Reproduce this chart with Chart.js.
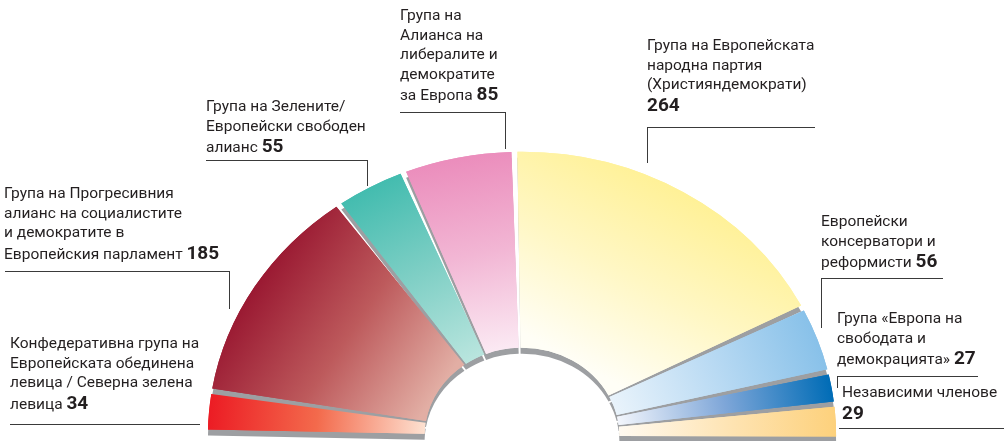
<!DOCTYPE html>
<html>
<head>
<meta charset="utf-8">
<script src="https://cdn.jsdelivr.net/npm/chart.js@4/dist/chart.umd.min.js"></script>
<style>
  html, body { margin: 0; padding: 0; background: #fff; }
  #wrap { position: relative; width: 1008px; height: 441px; overflow: hidden; }
  #wrap canvas { position: absolute; left: 0; top: 0; }
  .lbl {
    position: absolute; white-space: nowrap;
    font-family: Roboto, "Open Sans", sans-serif; font-size: 15.5px; line-height: 19.5px;
    color: #231f20;
  }
  .lbl b { font-size: 19px; line-height: 1; font-weight: 700; }
  .ln { position: absolute; box-sizing: border-box; border: 0 solid #3a3a3a; }
</style>
</head>
<body>
<div id="wrap">
  <canvas id="seats"></canvas>
</div>
<script>
// seats per political group, left to right around the hemicycle
const GROUPS = ['ЕОЛ/СЗЛ', 'С&Д', 'Зелените/ЕСА', 'Обнови Европа', 'ЕНП', 'ЕКР', 'ИД', 'Независими'];
const SEATS = [34, 185, 55, 85, 264, 56, 27, 29];

const LABEL_LINES = [
  ['Конфедеративна група на', 'Европейската обединена', 'левица / Северна зелена', 'левица '],
  ['Група на Прогресивния', 'алианс на социалистите', 'и демократите в', 'Европейския парламент '],
  ['Група на Зелените/', 'Европейски свободен', 'алианс '],
  ['Група на', 'Алианса на', 'либералите и', 'демократите', 'за Европа '],
  ['Група на Европейската', 'народна партия', '(Християндемократи)', ''],
  ['Европейски', 'консерватори и', 'реформисти '],
  ['Група «Европа на', 'свободата и', 'демокрацията» '],
  ['Независими членове', '']
];

// slice colours: outer edge -> inner edge
const OUTER_COLORS = ['#ec1c24', '#9a1932', '#43bcaf', '#eb8dbc', '#fff197', '#88c1e9', '#006cb6', '#fdd17c'];
const MID_COLORS   = ['#f36a4c', '#bd5a5c', '#7fcfc5', '#f2b6d4', '#fff7c4', '#b9daf3', '#7ea6d8', '#fee4b4'];
const INNER_COLORS = ['#fde1d1', '#e2aea4', '#b9e5de', '#fbe9f3', '#fffef6', '#e9f3fb', '#f3f6fc', '#fffaf1'];
const SHADOW = '#9d9fa2';

const ROTATION = -89.3;   // start slightly above the left horizontal
const RADIUS = 284;
const CUTOUT = '31%';
const STRETCH = 1.106;    // the hemicycle is a little wider than tall
const GAP_DEG = 1.1;
const DROP = 6;

// label boxes [left, top] and leader lines [left, top, width, height, sides]
const LABEL_POS = [[10, 334], [4, 184], [206, 97], [400, 6], [647, 36], [821, 212], [837, 309], [842, 383]];
const LEADERS = [
  [10, 424, 190, 1, 't'],
  [5, 271, 225, 38, 'tr'],
  [206, 160, 162, 26, 'tr'],
  [400, 112, 106, 37, 'tr'],
  [647, 127, 168, 36, 'tl'],
  [821, 278, 122, 50, 'tl'],
  [837, 376, 141, 12, 'tl'],
  [839, 428, 165, 1, 't']
];

const wrap = document.getElementById('wrap');
LABEL_LINES.forEach(function (lines, i) {
  const div = document.createElement('div');
  div.className = 'lbl';
  div.style.left = LABEL_POS[i][0] + 'px';
  div.style.top = LABEL_POS[i][1] + 'px';
  const head = lines.slice(0, -1).map(function (s) { return s + '<br>'; }).join('');
  div.innerHTML = head + lines[lines.length - 1] + '<b>' + SEATS[i] + '</b>';
  wrap.appendChild(div);
});
LEADERS.forEach(function (l) {
  const d = document.createElement('div');
  d.className = 'ln';
  d.style.left = l[0] + 'px';
  d.style.top = l[1] + 'px';
  d.style.width = l[2] + 'px';
  d.style.height = l[3] + 'px';
  if (l[4].indexOf('t') >= 0) d.style.borderTopWidth = '1px';
  if (l[4].indexOf('r') >= 0) d.style.borderRightWidth = '1px';
  if (l[4].indexOf('l') >= 0) d.style.borderLeftWidth = '1px';
  wrap.appendChild(d);
});

function sliceFill(c) {
  const i = c.dataIndex;
  const chart = c.chart;
  const area = chart.chartArea;
  const ctrl = chart.getDatasetMeta(0).controller;
  if (!area || !ctrl || !ctrl.outerRadius) return OUTER_COLORS[i];
  const total = SEATS.reduce(function (a, b) { return a + b; }, 0);
  const before = SEATS.slice(0, i).reduce(function (a, b) { return a + b; }, 0);
  const start = (ROTATION - 90) * Math.PI / 180;
  const mid = start + Math.PI * (before + SEATS[i] / 2) / total;
  const cx = (area.left + area.right) / 2 + ctrl.offsetX;
  const cy = (area.top + area.bottom) / 2 + ctrl.offsetY;
  const ro = ctrl.outerRadius, ri = ctrl.innerRadius;
  const g = chart.ctx.createLinearGradient(
    cx + Math.cos(mid) * ro, cy + Math.sin(mid) * ro,
    cx + Math.cos(mid) * ri, cy + Math.sin(mid) * ri);
  g.addColorStop(0, OUTER_COLORS[i]);
  g.addColorStop(0.5, MID_COLORS[i]);
  g.addColorStop(1, INNER_COLORS[i]);
  return g;
}

// gaps between slices, grey bottom edge and horizontal stretch
const hemicycle = {
  id: 'hemicycle',
  afterDatasetsUpdate(chart) {
    const half = GAP_DEG / 2 * Math.PI / 180;
    chart.getDatasetMeta(0).data.forEach(function (arc) {
      arc.startAngle += half;
      arc.endAngle -= half;
      arc.circumference = arc.endAngle - arc.startAngle;
    });
  },
  beforeDatasetsDraw(chart) {
    const ctx = chart.ctx;
    const arcs = chart.getDatasetMeta(0).data;
    const x = arcs[0].x, y = arcs[0].y;
    ctx.save();
    ctx.translate(x, y);
    ctx.scale(STRETCH, 1);
    ctx.translate(-x, -y);
    ctx.save();
    ctx.shadowColor = SHADOW;
    ctx.shadowOffsetX = 0;
    ctx.shadowOffsetY = DROP;
    ctx.shadowBlur = 0;
    arcs.forEach(function (arc) { arc.draw(ctx); });
    ctx.restore();
  },
  afterDatasetsDraw(chart) {
    chart.ctx.restore();
  }
};

new Chart(document.getElementById('seats'), {
  type: 'doughnut',
  data: {
    labels: GROUPS,
    datasets: [{
      data: SEATS,
      backgroundColor: sliceFill,
      borderWidth: 0,
      clip: false
    }]
  },
  options: {
    responsive: true,
    maintainAspectRatio: false,
    animation: false,
    events: [],
    rotation: ROTATION,
    circumference: 180,
    radius: RADIUS,
    cutout: CUTOUT,
    layout: { padding: { top: 150, left: 36, right: 0, bottom: 0 } },
    plugins: {
      legend: { display: false },
      tooltip: { enabled: false }
    }
  },
  plugins: [hemicycle]
});
</script>
</body>
</html>
